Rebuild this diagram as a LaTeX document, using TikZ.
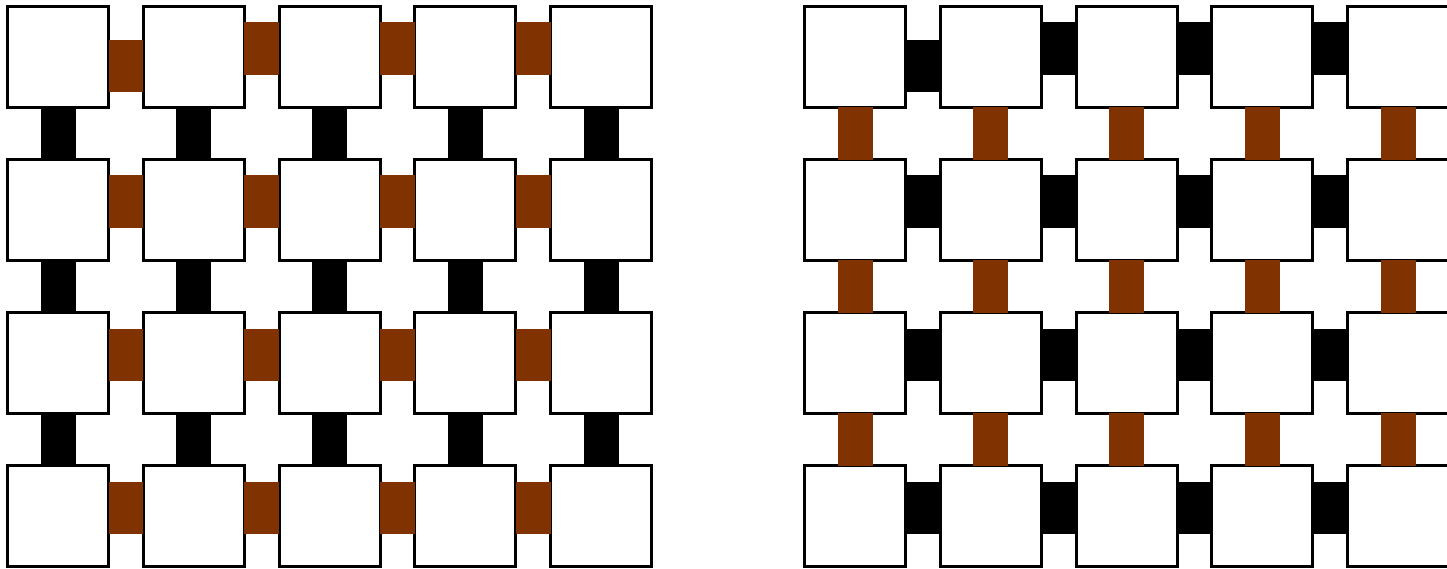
\documentclass[tikz,border=0pt]{standalone}
\usetikzlibrary{calc}
\definecolor{brownc}{RGB}{128,50,0}
\begin{document}
\begin{tikzpicture}[x=1pt,y=-1pt,
  sq/.style={draw=black,fill=white,line width=3pt,minimum size=101pt,inner sep=0pt,outer sep=0pt},
  hlink/.style={fill=#1},
  vlink/.style={fill=#1}]
\useasboundingbox (0,0) rectangle (1447,569);
\clip (0,0) rectangle (1447,569);
% squares
\foreach \i in {1,...,5}{
  \foreach \j in {1,...,4}{
    \node[sq] (L-\i-\j) at ({58+135.75*(\i-1)},{57+153*(\j-1)}) {};
    \node[sq] (R-\i-\j) at ({855+135.75*(\i-1)},{57+153*(\j-1)}) {};
  }
}
% horizontal links
\foreach \i/\n in {1/2,2/3,3/4,4/5}{
  \foreach \j in {1,...,4}{
    \pgfmathsetmacro\ya{((\i==1)&&(\j==1)) ? -17 : -34.5}
    \pgfmathsetmacro\yb{((\i==1)&&(\j==1)) ? 35 : 18}
    \fill[hlink=brownc] ($(L-\i-\j.center)+(50.5,\ya)$) rectangle ($(L-\n-\j.center)+(-50.5,\yb)$);
    \fill[hlink=black] ($(R-\i-\j.center)+(50.5,\ya)$) rectangle ($(R-\n-\j.center)+(-50.5,\yb)$);
  }
}
% vertical links
\foreach \i in {1,...,5}{
  \foreach \j/\n in {1/2,2/3,3/4}{
    \fill[vlink=black] ($(L-\i-\j.center)+(-17.5,50)$) rectangle ($(L-\i-\n.center)+(17.5,-50)$);
    \fill[vlink=brownc] ($(R-\i-\j.center)+(-17.5,50)$) rectangle ($(R-\i-\n.center)+(17.5,-50)$);
  }
}
\end{tikzpicture}
\end{document}
